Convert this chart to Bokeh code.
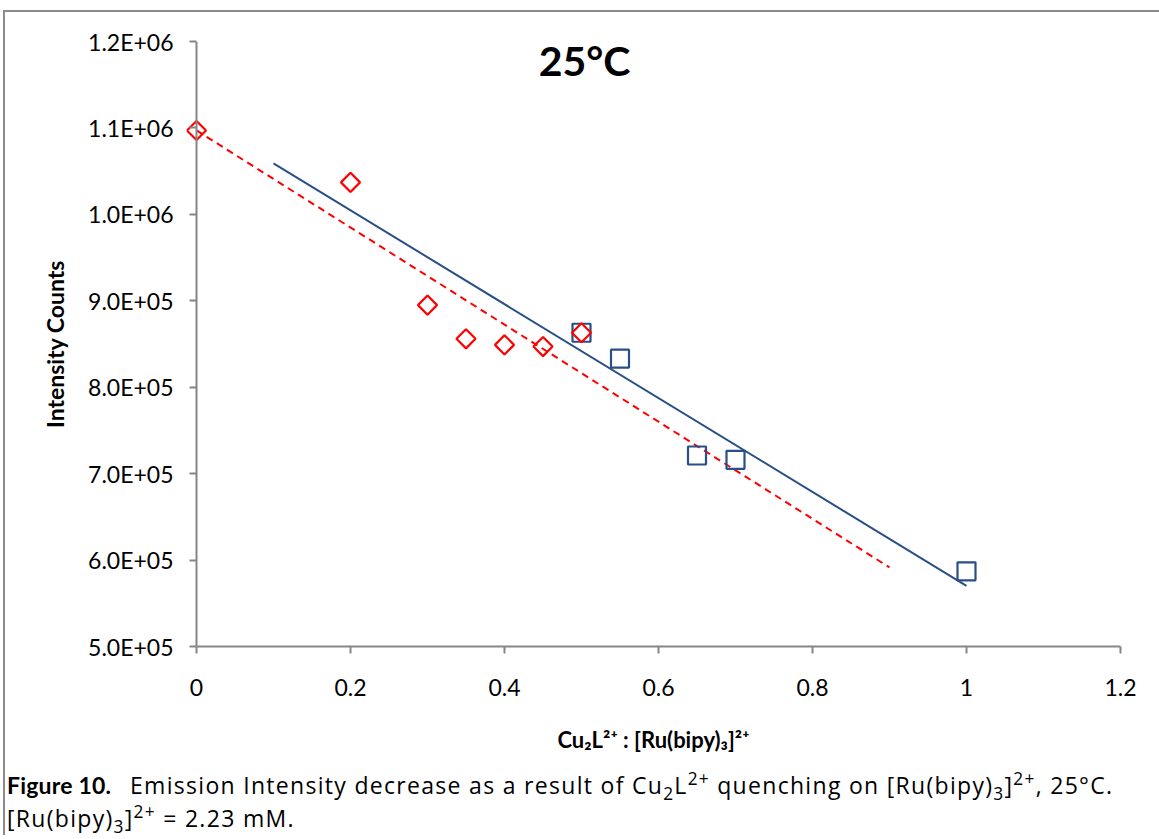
import numpy as np
from bokeh.plotting import figure
from bokeh.models import Range1d, FixedTicker, Label, Span, Div
from bokeh.layouts import column
from bokeh.embed import file_html
from bokeh.resources import INLINE

# ---------------- data ----------------
red_x = [0.0, 0.2, 0.3, 0.35, 0.4, 0.45, 0.5]
red_y = [1.097e6, 1.037e6, 8.95e5, 8.56e5, 8.49e5, 8.47e5, 8.63e5]
blue_x = [0.5, 0.55, 0.65, 0.7, 1.0]
blue_y = [8.63e5, 8.33e5, 7.21e5, 7.16e5, 5.87e5]

x_ticks = [0.0, 0.2, 0.4, 0.6, 0.8, 1.0, 1.2]
x_tick_labels = ["0", "0.2", "0.4", "0.6", "0.8", "1", "1.2"]
y_ticks = [5e5, 6e5, 7e5, 8e5, 9e5, 1.0e6, 1.1e6, 1.2e6]
y_tick_labels = ["5.0E+05", "6.0E+05", "7.0E+05", "8.0E+05", "9.0E+05",
                 "1.0E+06", "1.1E+06", "1.2E+06"]

# trendline extensions (Excel style forecast forward / backward)
red_trend_backward, red_trend_forward = 0.0, 0.4
blue_trend_backward, blue_trend_forward = 0.4, 0.0

title_text = "25°C"
y_title = "Intensity Counts"
x_title = "Cu₂L²⁺ : [Ru(bipy)₃]²⁺"
caption_bold = "Figure 10."
caption_rest = ("Emission Intensity decrease as a result of Cu<sub>2</sub>L<sup>2+</sup> "
                "quenching on [Ru(bipy)<sub>3</sub>]<sup>2+</sup>, 25°C.")
caption_line2 = "[Ru(bipy)<sub>3</sub>]<sup>2+</sup> = 2.23 mM."

# ---------------- layout ----------------
X_MAX, Y_MIN, Y_MAX = 1.2, 5e5, 1.2e6
PX_PER_X = 770.0           # pixels per x unit
AXIS0_PAGE_X = 196         # page x of x=0
FRAME_LEFT_PAGE = 186      # page x of frame left
OFF_X, OFF_Y = 5, 12       # page offset of canvas (margin + border)
FRAME_TOP_PAGE, FRAME_BOTTOM_PAGE = 41, 646
W, H = 1154, 753
CAP_H = 70

x_start = -(AXIS0_PAGE_X - FRAME_LEFT_PAGE) / PX_PER_X
frame_right_page = AXIS0_PAGE_X + X_MAX * PX_PER_X

def dx(page_x):
    return x_start + (page_x - FRAME_LEFT_PAGE) / PX_PER_X

def dy(page_y):
    return Y_MIN + (FRAME_BOTTOM_PAGE - page_y) / (FRAME_BOTTOM_PAGE - FRAME_TOP_PAGE) * (Y_MAX - Y_MIN)

p = figure(width=W, height=H, output_backend="svg", toolbar_location=None,
           x_range=Range1d(x_start, X_MAX), y_range=Range1d(Y_MIN, Y_MAX),
           min_border_left=FRAME_LEFT_PAGE - OFF_X,
           min_border_top=FRAME_TOP_PAGE - OFF_Y,
           min_border_right=int(W - (frame_right_page - OFF_X)),
           min_border_bottom=H - (FRAME_BOTTOM_PAGE - OFF_Y))
p.outline_line_color = None
p.grid.visible = False
p.background_fill_color = "white"
p.border_fill_color = "white"

AXIS_COLOR = "#868686"
TICK_FONT = "Lato"

# x axis
xa = p.xaxis[0]
xa.ticker = FixedTicker(ticks=x_ticks)
xa.major_label_overrides = {t: l for t, l in zip(x_ticks, x_tick_labels)}
xa.bounds = (0, X_MAX)
xa.axis_line_color = AXIS_COLOR
xa.axis_line_width = 2
xa.major_tick_line_color = AXIS_COLOR
xa.major_tick_line_width = 2
xa.major_tick_out = 7
xa.major_tick_in = 0
xa.minor_tick_line_color = None
xa.major_label_standoff = 25
xa.major_label_text_font = TICK_FONT
xa.major_label_text_font_size = "23px"
xa.major_label_text_color = "black"
xa.axis_label = x_title
xa.axis_label_text_font = "Lato"
xa.axis_label_text_font_style = "bold"
xa.axis_label_text_font_size = "22px"
xa.axis_label_standoff = 27
xa.axis_label_text_color = "black"

# y axis: ticks are drawn at x = 0 (10 px inside the frame so the marker at x=0 is not cut)
ya = p.yaxis[0]
ya.ticker = FixedTicker(ticks=y_ticks)
ya.major_label_overrides = {t: l for t, l in zip(y_ticks, y_tick_labels)}
ya.axis_line_color = None
ya.major_tick_line_color = AXIS_COLOR
ya.major_tick_line_width = 2
ya.major_tick_in = AXIS0_PAGE_X - FRAME_LEFT_PAGE
ya.major_tick_out = -3
ya.minor_tick_line_color = None
ya.major_label_standoff = 13
ya.major_label_text_font = TICK_FONT
ya.major_label_text_font_size = "23px"
ya.major_label_text_color = "black"
ya.axis_label = y_title
ya.axis_label_text_font = "Lato"
ya.axis_label_text_font_style = "bold"
ya.axis_label_text_font_size = "23px"
ya.axis_label_standoff = 16
ya.axis_label_text_color = "black"
p.add_layout(Span(location=0, dimension="height", line_color=AXIS_COLOR, line_width=2))

RED = "#ff0000"
BLUE = "#284f86"

# trendlines (least squares fit of each series)
rs, ri = np.polyfit(red_x, red_y, 1)
bs, bi = np.polyfit(blue_x, blue_y, 1)
rx = np.array([min(red_x) - red_trend_backward, max(red_x) + red_trend_forward])
bx = np.array([min(blue_x) - blue_trend_backward, max(blue_x) + blue_trend_forward])
p.line(rx, rs * rx + ri, line_color=RED, line_width=2, line_dash="7 5")
p.line(bx, bs * bx + bi, line_color=BLUE, line_width=2)

# markers
p.scatter(blue_x, blue_y, marker="square", size=18, fill_color=None,
          line_color=BLUE, line_width=2.2)
p.scatter(red_x, red_y, marker="square", angle=np.pi / 4, size=13.5,
          fill_color=None, line_color=RED, line_width=2.2)

# chart title
p.add_layout(Label(x=dx(584), y=dy(60), text=title_text, text_font="Lato",
                   text_font_style="bold", text_font_size="41px",
                   text_align="center", text_baseline="middle", text_color="black"))

# caption below the chart
sub_style = "font-size:0.75em;line-height:0;"
cap_html = (f'<div style="font-family:\'Open Sans\';font-size:23px;line-height:33px;color:black;'
            f'letter-spacing:1.3px;padding:4px 0 0 2px;white-space:nowrap;">'
            f'<span style="display:inline-block;width:123px;font-family:Lato;font-weight:bold;'
            f'font-size:23px;letter-spacing:0.2px;">{caption_bold}</span>{caption_rest}'
            f'<br>{caption_line2}</div>')
cap_html = cap_html.replace("<sub>", f'<sub style="{sub_style}">').replace(
    "<sup>", f'<sup style="{sub_style}">')
cap = Div(text=cap_html, width=W, height=CAP_H, margin=0)

layout = column(p, cap, spacing=0,
                styles={"margin-left": "3px", "margin-top": "10px",
                        "border-left": "2px solid #8c8c8c",
                        "border-top": "2px solid #8c8c8c",
                        "background": "white"})

open("out.html", "w").write(file_html(layout, INLINE))
